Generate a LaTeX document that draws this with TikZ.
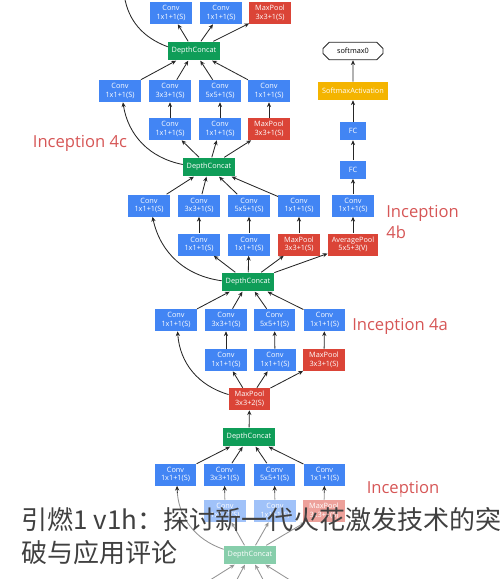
\documentclass[tikz,border=0pt]{standalone}
\usepackage{fontspec}
\setmainfont{Open Sans}
\newfontfamily\cjk{Noto Sans CJK SC}
\usetikzlibrary{arrows.meta}
\usetikzlibrary{shapes.misc}

\definecolor{convblue}{RGB}{66,133,244}
\definecolor{poolred}{RGB}{219,68,55}
\definecolor{concatgreen}{RGB}{15,157,88}
\definecolor{softorange}{RGB}{244,180,0}
\definecolor{incred}{RGB}{214,86,86}

\begin{document}
\begin{tikzpicture}[x=0.025cm, y=-0.025cm, >={Stealth[length=3.4pt,width=3pt]},
    box/.style={rectangle, text=white, inner sep=0pt, align=center, font=\fontsize{5.2}{6.1}\selectfont},
    conv/.style={box, fill=convblue, minimum width=1.04cm, minimum height=0.55cm},
    pool/.style={box, fill=poolred, minimum width=1.03cm, minimum height=0.55cm},
    concat/.style={box, fill=concatgreen, minimum width=1.3cm, minimum height=0.47cm},
    flow/.style={->, line width=0.6pt, draw=black!85},
    incname/.style={text=incred, font=\fontsize{11.8}{15}\selectfont, align=left, inner sep=0pt}]

    \useasboundingbox (0,0) rectangle (500,579);

    % NEXT MODULE (cut off at the top)
    \node[conv] (c5a1) at (171,13) {Conv\\1x1+1(S)};
    \node[conv] (c5a2) at (221,13) {Conv\\1x1+1(S)};
    \node[pool] (p5a) at (270,13) {MaxPool\\3x3+1(S)};
    \coordinate (c5a0) at (124,-6);

    % INCEPTION 4c
    \node[concat] (dc4c) at (194,51) {DepthConcat};
    \node[conv] (c4c1) at (120,91) {Conv\\1x1+1(S)};
    \node[conv] (c4c2) at (170,91) {Conv\\3x3+1(S)};
    \node[conv] (c4c3) at (220,91) {Conv\\5x5+1(S)};
    \node[conv] (c4c4) at (269,91) {Conv\\1x1+1(S)};
    \node[conv] (c4c5) at (170,129) {Conv\\1x1+1(S)};
    \node[conv] (c4c6) at (220,129) {Conv\\1x1+1(S)};
    \node[pool] (p4c) at (269,129) {MaxPool\\3x3+1(S)};
    \node[incname] (l4c) at (80,143) {Inception 4c};

    % INCEPTION 4b
    \node[concat] (dc4b) at (209,167) {DepthConcat};
    \node[conv] (c4b1) at (149,205.5) {Conv\\1x1+1(S)};
    \node[conv] (c4b2) at (199,205.5) {Conv\\3x3+1(S)};
    \node[conv] (c4b3) at (249,205.5) {Conv\\5x5+1(S)};
    \node[conv] (c4b4) at (299,205.5) {Conv\\1x1+1(S)};
    \node[conv] (c4b5) at (199,244.5) {Conv\\1x1+1(S)};
    \node[conv] (c4b6) at (249,244.5) {Conv\\1x1+1(S)};
    \node[pool] (p4b) at (299,244.5) {MaxPool\\3x3+1(S)};
    \node[incname, anchor=west] (l4b) at (386,222) {Inception\\4b};

    % Auxiliary classifier
    \node[pool, minimum width=1.26cm] (ap) at (353,244.5) {AveragePool\\5x5+3(V)};
    \node[conv] (ac) at (353,205.5) {Conv\\1x1+1(S)};
    \node[conv, minimum width=0.66cm, minimum height=0.45cm] (fc1) at (353,169.5) {FC};
    \node[conv, minimum width=0.66cm, minimum height=0.45cm] (fc2) at (353,131) {FC};
    \node[box, fill=softorange, minimum width=1.75cm, minimum height=0.45cm] (sa) at (353,91) {SoftmaxActivation};
    \node[box, chamfered rectangle, chamfered rectangle xsep=3pt, chamfered rectangle ysep=2.5pt,
          draw=black!85, line width=0.6pt, fill=white, text=black, minimum width=1.5cm, minimum height=0.44cm]
          (sm) at (353,51) {softmax0};

    % INCEPTION 4a
    \node[concat] (dc4a) at (248,282) {DepthConcat};
    \node[conv] (c4a1) at (176,320) {Conv\\1x1+1(S)};
    \node[conv] (c4a2) at (226,320) {Conv\\3x3+1(S)};
    \node[conv] (c4a3) at (274.5,320) {Conv\\5x5+1(S)};
    \node[conv] (c4a4) at (324.5,320) {Conv\\1x1+1(S)};
    \node[conv] (c4a5) at (226,360) {Conv\\1x1+1(S)};
    \node[conv] (c4a6) at (275,360) {Conv\\1x1+1(S)};
    \node[pool] (p4a) at (324,360) {MaxPool\\3x3+1(S)};
    \node[pool] (mp3) at (249.5,399) {MaxPool\\3x3+2(S)};
    \node[incname] (l4a) at (400,326) {Inception 4a};

    % INCEPTION 3b
    \node[concat] (dc3b) at (249,437) {DepthConcat};
    \node[conv] (c3b1) at (175.5,474.5) {Conv\\1x1+1(S)};
    \node[conv] (c3b2) at (224.5,474.5) {Conv\\3x3+1(S)};
    \node[conv] (c3b3) at (274.5,474.5) {Conv\\5x5+1(S)};
    \node[conv] (c3b4) at (324.5,474.5) {Conv\\1x1+1(S)};
    \node[conv] (c3b5) at (225,511) {Conv\\1x1+1(S)};
    \node[conv] (c3b6) at (275,511) {Conv\\1x1+1(S)};
    \node[pool] (p3b) at (324,511) {MaxPool\\3x3+1(S)};
    \node[concat] (dc3a) at (250,555) {DepthConcat};
    \node[incname] (l3b) at (403,489) {Inception};
    \coordinate (c3a1) at (175,602);
    \coordinate (c3a2) at (225,602);
    \coordinate (c3a3) at (275,602);
    \coordinate (c3a4) at (325,602);

    % Connections
    \draw[flow] (dc4c) to[bend left=30] (c5a0);
    \draw[flow] (dc4c) -- (c5a1);
    \draw[flow] (dc4c) -- (c5a2);
    \draw[flow] (dc4c) -- (p5a);

    \foreach \n in {c4c1,c4c2,c4c3,c4c4} \draw[flow] (\n) -- (dc4c);
    \draw[flow] (c4c5) -- (c4c2);
    \draw[flow] (c4c6) -- (c4c3);
    \draw[flow] (p4c) -- (c4c4);
    \draw[flow] (dc4b) to[bend left=35] (c4c1);
    \foreach \n in {c4c5,c4c6,p4c} \draw[flow] (dc4b) -- (\n);

    \foreach \n in {c4b1,c4b2,c4b3,c4b4} \draw[flow] (\n) -- (dc4b);
    \draw[flow] (c4b5) -- (c4b2);
    \draw[flow] (c4b6) -- (c4b3);
    \draw[flow] (p4b) -- (c4b4);
    \draw[flow] (dc4a) to[bend left=35] (c4b1);
    \foreach \n in {c4b5,c4b6,p4b,ap} \draw[flow] (dc4a) -- (\n);

    \draw[flow] (ap) -- (ac);
    \draw[flow] (ac) -- (fc1);
    \draw[flow] (fc1) -- (fc2);
    \draw[flow] (fc2) -- (sa);
    \draw[flow] (sa) -- (sm);

    \foreach \n in {c4a1,c4a2,c4a3,c4a4} \draw[flow] (\n) -- (dc4a);
    \draw[flow] (c4a5) -- (c4a2);
    \draw[flow] (c4a6) -- (c4a3);
    \draw[flow] (p4a) -- (c4a4);
    \draw[flow] (mp3) to[bend left=35] (c4a1);
    \foreach \n in {c4a5,c4a6,p4a} \draw[flow] (mp3) -- (\n);
    \draw[flow] (dc3b) -- (mp3);

    \foreach \n in {c3b1,c3b2,c3b3,c3b4} \draw[flow] (\n) -- (dc3b);
    \draw[flow] (c3b5) -- (c3b2);
    \draw[flow] (c3b6) -- (c3b3);
    \draw[flow] (p3b) -- (c3b4);
    \draw[flow] (dc3a) to[bend left=35] (c3b1);
    \foreach \n in {c3b5,c3b6,p3b} \draw[flow] (dc3a) -- (\n);
    \foreach \n in {c3a1,c3a2,c3a3,c3a4} \draw[flow] (\n) -- (dc3a);

    % Fade and caption
    \fill[white, opacity=0.5] (0,493) rectangle (500,579);
    \node[anchor=west, align=left, inner sep=0pt, text=black!75,
          font=\cjk\fontsize{18.5}{23.5}\selectfont] (caption) at (21,536.5)
          {引燃1 v1h：探讨新一代火花激发技术的突\\破与应用评论};

\end{tikzpicture}
\end{document}
